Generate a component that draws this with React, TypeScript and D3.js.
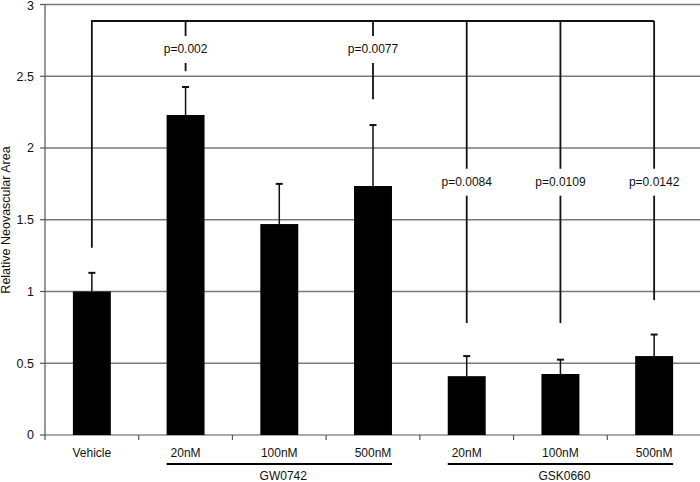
import React from 'react';
import * as d3 from 'd3';

// bar data
const categoryIds = ['veh', 'gw20', 'gw100', 'gw500', 'gsk20', 'gsk100', 'gsk500'];
const categoryLabels = ['Vehicle', '20nM', '100nM', '500nM', '20nM', '100nM', '500nM'];
const means = [1.0, 2.23, 1.47, 1.735, 0.41, 0.425, 0.55];
const errors = [0.13, 0.195, 0.28, 0.425, 0.14, 0.1, 0.15];

const yTicks = [0, 0.5, 1, 1.5, 2, 2.5, 3];

const groupNames = ['GW0742', 'GSK0660'];
const groupFirst = ['gw20', 'gsk20'];
const groupLast = ['gw500', 'gsk500'];

// significance brackets
const bracketLevel = 2.885;
const controlLineEnd = 1.305;
const pTargets = ['gw20', 'gw500', 'gsk20', 'gsk100', 'gsk500'];
const pLabels = ['p=0.002', 'p=0.0077', 'p=0.0084', 'p=0.0109', 'p=0.0142'];
const pLabelLevel = [2.69, 2.69, 1.765, 1.765, 1.765];
const pLineEnd = [2.535, 2.34, 0.78, 0.78, 0.94];

const W = 700;
const H = 482;
const FONT = '"Liberation Sans", Arial, sans-serif';

export default function App() {
  const x = d3.scaleBand<string>()
    .domain(categoryIds)
    .range([45, 701])
    .paddingInner(0.595)
    .paddingOuter(0.2975);

  const y = d3.scaleLinear([0, 3], [435, 4.5]);

  const step = x.step();
  const bw = x.bandwidth();
  const cx = (id: string) => x(id)! + bw / 2;
  const controlX = cx('veh');
  const lastX = cx(pTargets[pTargets.length - 1]);

  return (
    <svg width={W} height={H} viewBox={`0 0 ${W} ${H}`}
         style={{position: 'absolute', left: 0, top: 0, background: '#fff'}}
         fontFamily={FONT}>
      {/* grid */}
      {yTicks.slice(1).map(t => (
        <line key={'g' + t} x1={45} x2={W} y1={y(t)} y2={y(t)} stroke="#7a7a7a" strokeWidth={1.3}/>
      ))}

      {/* y axis */}
      <line x1={45} x2={45} y1={y(3)} y2={y(0)} stroke="#555" strokeWidth={1.2}/>
      {yTicks.map(t => (
        <g key={'t' + t}>
          <line x1={40} x2={45} y1={y(t)} y2={y(t)} stroke="#555" strokeWidth={1.2}/>
          <text x={34} y={Math.max(y(t), 5.5)} dy="0.35em" textAnchor="end" fontSize={12.5} fill="#111">{t}</text>
        </g>
      ))}
      <text transform={`translate(10,220) rotate(-90)`} textAnchor="middle" fontSize={12.5} fill="#111">
        Relative Neovascular Area
      </text>

      {/* x axis */}
      <line x1={45} x2={W} y1={y(0)} y2={y(0)} stroke="#555" strokeWidth={1.2}/>
      {categoryIds.map((id, i) => (
        <line key={'xt' + id} x1={45 + step * (i + 1)} x2={45 + step * (i + 1)} y1={y(0)} y2={y(0) + 5}
              stroke="#555" strokeWidth={1.2}/>
      ))}
      <line x1={45} x2={45} y1={y(0)} y2={y(0) + 5} stroke="#555" strokeWidth={1.2}/>

      {/* bars and error bars */}
      {categoryIds.map((id, i) => {
        const top = y(means[i] + errors[i]);
        return (
          <g key={'b' + id}>
            <rect x={x(id)} y={y(means[i])} width={bw} height={y(0) - y(means[i])} fill="#000"/>
            <line x1={cx(id)} x2={cx(id)} y1={y(means[i])} y2={top} stroke="#111" strokeWidth={1.5}/>
            <line x1={cx(id) - 3.5} x2={cx(id) + 3.5} y1={top} y2={top} stroke="#111" strokeWidth={2}/>
          </g>
        );
      })}

      {/* category labels */}
      {categoryIds.map((id, i) => (
        <text key={'l' + id} x={cx(id)} y={457} textAnchor="middle" fontSize={12} fill="#111">
          {categoryLabels[i]}
        </text>
      ))}

      {/* group underlines */}
      {groupNames.map((g, i) => {
        const x1 = x(groupFirst[i])!;
        const x2 = x(groupLast[i])! + bw;
        return (
          <g key={'grp' + g}>
            <line x1={x1} x2={x2} y1={464} y2={464} stroke="#000" strokeWidth={2}/>
            <text x={(x1 + x2) / 2 + 4} y={480} textAnchor="middle" fontSize={12} fill="#111">{g}</text>
          </g>
        );
      })}

      {/* significance brackets */}
      <path d={`M${controlX},${y(controlLineEnd)}V${y(bracketLevel)}H${lastX}`}
            fill="none" stroke="#111" strokeWidth={1.8}/>
      {pTargets.map((id, i) => {
        const px = cx(id);
        const ly = y(pLabelLevel[i]);
        return (
          <g key={'p' + id}>
            <line x1={px} x2={px} y1={y(bracketLevel)} y2={ly - 13} stroke="#111" strokeWidth={1.8}/>
            <line x1={px} x2={px} y1={ly + 14} y2={y(pLineEnd[i])} stroke="#111" strokeWidth={1.8}/>
            <text x={px} y={ly} dy="0.35em" textAnchor="middle" fontSize={12} fill="#111">{pLabels[i]}</text>
          </g>
        );
      })}
    </svg>
  );
}
